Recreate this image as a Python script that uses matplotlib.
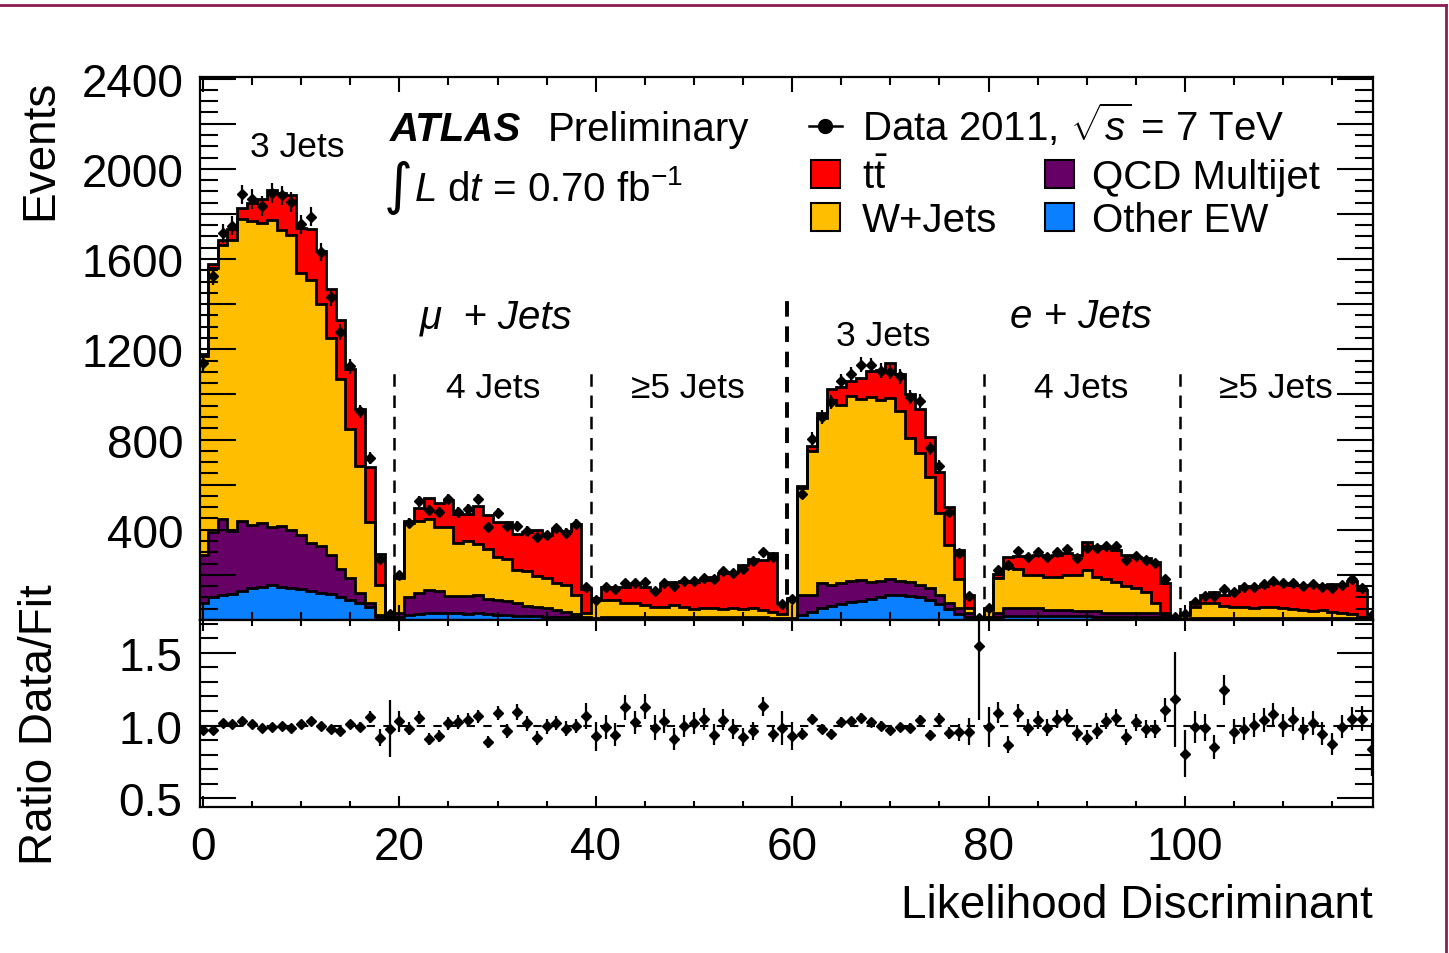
import numpy as np
import matplotlib
matplotlib.use('Agg')
import matplotlib.pyplot as plt
from matplotlib.lines import Line2D
from matplotlib.patches import Rectangle
from matplotlib.ticker import MultipleLocator, FuncFormatter

plt.rcParams['font.family'] = 'Liberation Sans'
plt.rcParams['mathtext.fontset'] = 'custom'
plt.rcParams['mathtext.rm'] = 'Liberation Sans'
plt.rcParams['mathtext.it'] = 'Liberation Sans:italic'
plt.rcParams['mathtext.bf'] = 'Liberation Sans:bold'

W, H = 1449, 954

# fitted yields per bin, 6 channels x 20 bins:
# mu 3 jets, mu 4 jets, mu >=5 jets, e 3 jets, e 4 jets, e >=5 jets
other_ew = [74, 104, 111, 115, 130, 141, 148, 155, 148, 141, 136, 130, 121, 115, 104, 89, 74, 56, 14, 4,
            14, 22, 27, 30, 30, 33, 30, 27, 33, 27, 22, 22, 19, 19, 18, 15, 15, 12, 12, 5,
            3, 5, 5, 5, 5, 5, 5, 5, 5, 5, 5, 5, 5, 5, 5, 5, 5, 5, 4, 3,
            3, 22, 37, 52, 63, 70, 78, 85, 92, 104, 113, 113, 108, 100, 89, 70, 48, 28, 15, 2,
            6, 15, 18, 18, 18, 18, 18, 18, 18, 18, 18, 15, 15, 15, 15, 15, 15, 15, 10, 3,
            3, 4, 4, 4, 4, 4, 4, 4, 4, 4, 4, 4, 4, 4, 4, 4, 4, 4, 4, 2]
qcd = [215, 288, 336, 280, 311, 281, 284, 257, 269, 259, 241, 213, 208, 174, 121, 96, 44, 18, 10, 4,
       16, 82, 94, 103, 100, 74, 77, 80, 78, 65, 67, 64, 55, 43, 38, 37, 29, 25, 15, 8,
       5, 7, 7, 7, 7, 7, 7, 7, 7, 7, 7, 7, 7, 7, 7, 7, 7, 7, 6, 5,
       5, 89, 74, 111, 92, 93, 96, 93, 75, 68, 67, 61, 59, 55, 52, 41, 26, 24, 15, 2,
       8, 15, 35, 35, 35, 35, 26, 26, 26, 22, 22, 25, 18, 18, 18, 15, 15, 15, 12, 2,
       3, 4, 4, 4, 4, 4, 4, 4, 4, 4, 4, 4, 4, 4, 4, 4, 4, 4, 4, 2]
wjets = [881, 1170, 1214, 1288, 1335, 1347, 1326, 1361, 1310, 1307, 1162, 1162, 1071, 961, 844, 662, 563, 360, 131, 4,
         155, 325, 316, 314, 282, 305, 233, 244, 226, 222, 189, 183, 148, 153, 139, 133, 119, 118, 84, 20,
         82, 77, 77, 65, 62, 55, 47, 44, 53, 44, 38, 41, 40, 38, 40, 38, 41, 32, 27, 19,
         84, 474, 636, 733, 822, 792, 818, 802, 822, 802, 806, 751, 640, 585, 495, 363, 259, 129, 22, 1,
         30, 155, 176, 172, 147, 147, 145, 145, 156, 160, 182, 152, 147, 137, 118, 110, 96, 44, 11, 2,
         18, 51, 66, 66, 54, 51, 48, 44, 48, 51, 44, 39, 36, 33, 36, 29, 22, 19, 7, 4]
ttbar = [7, 14, 22, 49, 52, 81, 107, 133, 165, 176, 200, 227, 236, 218, 260, 266, 254, 242, 138, 13,
         10, 10, 61, 93, 107, 118, 129, 121, 167, 153, 158, 165, 159, 175, 204, 194, 237, 241, 315, 103,
         6, 57, 56, 68, 86, 81, 73, 104, 102, 118, 118, 124, 140, 158, 161, 195, 217, 224, 258, 47,
         6, 7, 23, 22, 47, 78, 66, 93, 114, 133, 154, 167, 197, 195, 175, 180, 170, 130, 59, 1,
         8, 19, 52, 58, 82, 90, 94, 101, 99, 90, 125, 138, 140, 140, 139, 140, 149, 184, 132, 4,
         8, 21, 35, 51, 48, 71, 95, 94, 96, 103, 111, 109, 111, 116, 113, 124, 126, 148, 120, 17]

# data / fit per bin
ratio = [0.968, 0.968, 1.018, 1.009, 1.032, 1.009, 0.984, 0.993, 0.995, 0.984,
         1.009, 1.032, 0.998, 0.975, 0.961, 1.011, 0.989, 1.060, 0.917, 0.979,
         1.030, 0.979, 1.055, 0.906, 0.926, 1.014, 1.025, 1.041, 1.064, 0.887,
         1.087, 0.961, 1.094, 1.014, 0.917, 0.995, 1.018, 0.979, 0.998, 1.064,
         0.926, 0.993, 0.938, 1.124, 1.021, 1.129, 0.984, 1.030, 0.906, 0.998,
         1.016, 1.044, 0.938, 1.041, 0.975, 0.920, 0.961, 1.133, 0.943, 0.984,
         0.929, 0.945, 1.044, 0.979, 0.943, 1.025, 1.030, 1.055, 1.023, 0.998,
         0.966, 0.989, 0.986, 1.037, 0.938, 1.044, 0.949, 0.952, 0.956, 1.543,
         0.991, 1.087, 0.869, 1.087, 0.984, 1.037, 0.984, 1.044, 1.055, 0.949,
         0.917, 0.961, 1.030, 1.053, 0.922, 1.021, 0.975, 0.975, 1.106, 1.179,
         0.807, 0.991, 0.986, 0.853, 1.244, 0.956, 0.979, 1.002, 1.037, 1.076,
         1.002, 1.044, 0.979, 1.018, 0.945, 0.874, 0.991, 1.048, 1.048, 0.837]

channel_labels = ['3 Jets', '4 Jets', '\u22655 Jets', '3 Jets', '4 Jets', '\u22655 Jets']

C_EW = '#0a7fff'
C_QCD = '#660066'
C_W = '#ffbf00'
C_TT = '#ff0000'

AXIS_FS = 33


def px(x, y):
    return x / W, 1 - y / H


nbins = len(ratio)
edges = np.arange(nbins + 1) - 0.5
centers = np.arange(nbins)

s_ew = np.array(other_ew, float)
s_qcd = s_ew + np.array(qcd)
s_w = s_qcd + np.array(wjets)
s_tt = s_w + np.array(ttbar)
total = s_tt
data = np.array(ratio) * total
data_err = np.sqrt(data)
ratio_err = data_err / total

fig = plt.figure(figsize=(W / 100, H / 100), dpi=100)
x0, y0 = px(200, 621)
x1, y1 = px(1373, 78)
ax = fig.add_axes([x0, y0, x1 - x0, y1 - y0])
_, yr0 = px(200, 808)
axr = fig.add_axes([x0, yr0, x1 - x0, y0 - yr0])

# stacked fit components, bottom to top
layers = [(0, s_ew, C_EW), (s_ew, s_qcd, C_QCD), (s_qcd, s_w, C_W), (s_w, s_tt, C_TT)]
for lo, hi, col in layers:
    ax.stairs(hi, edges, baseline=lo, fill=True, color=col, lw=0, zorder=1)
for lo, hi, col in layers:
    ax.stairs(hi, edges, baseline=None, color='k', lw=2.0, zorder=2)

ax.errorbar(centers, data, yerr=data_err, fmt='D', ms=5.5, color='k',
            elinewidth=1.6, capsize=0, zorder=4)

# channel separators
for xb in [19.5, 39.5, 79.5, 99.5]:
    ax.plot([xb, xb], [0, 1132], color='k', lw=1.8, ls=(0, (5, 3.5)), zorder=0.5)
ax.plot([59.5, 59.5], [0, 1443], color='k', lw=2.8, ls=(0, (4, 2.5)), zorder=0.5)

ax.set_xlim(-0.3, 119.15)
ax.set_ylim(0, 2407)
ax.xaxis.set_major_locator(MultipleLocator(20))
ax.xaxis.set_minor_locator(MultipleLocator(5))
ax.yaxis.set_major_locator(MultipleLocator(200))
ax.yaxis.set_minor_locator(MultipleLocator(50))
ax.yaxis.set_major_formatter(FuncFormatter(
    lambda v, p: f'{int(round(v))}' if (round(v) % 400 == 0 and v > 1) else ''))
ax.tick_params(which='both', direction='in', top=True, right=True, width=1.5,
               labelbottom=False, labelsize=AXIS_FS, pad=12)
ax.tick_params(axis='y', which='major', length=26)
ax.tick_params(axis='y', which='minor', length=13)
ax.tick_params(axis='x', which='major', length=11)
ax.tick_params(axis='x', which='minor', length=6)

# ratio panel
axr.axhline(1.0, color='k', lw=1.5, ls=(0, (4, 4)), zorder=1)
axr.errorbar(centers, ratio, yerr=ratio_err, fmt='D', ms=5.5, color='k',
             elinewidth=1.6, capsize=0, zorder=3)
axr.set_xlim(-0.3, 119.15)
axr.set_ylim(0.44, 1.725)
axr.xaxis.set_major_locator(MultipleLocator(20))
axr.xaxis.set_minor_locator(MultipleLocator(5))
axr.yaxis.set_major_locator(MultipleLocator(0.5))
axr.yaxis.set_minor_locator(MultipleLocator(0.1))
axr.yaxis.set_major_formatter(FuncFormatter(lambda v, p: f'{v:.1f}'))
axr.tick_params(which='both', direction='in', top=True, right=True, width=1.5,
                labelsize=AXIS_FS)
axr.tick_params(axis='y', which='major', length=26, pad=13)
axr.tick_params(axis='y', which='minor', length=13)
axr.tick_params(axis='x', which='major', length=8, pad=13)
axr.tick_params(axis='x', which='minor', length=4)

for a in (ax, axr):
    for sp in a.spines.values():
        sp.set_linewidth(1.6)

# axis titles
fig.text(*px(40, 80), 'Events', rotation=90, ha='center', va='top', size=AXIS_FS)
fig.text(*px(40, 725), 'Ratio Data/Fit', rotation=90, ha='center', va='center', size=AXIS_FS)
fig.text(*px(1373, 918), 'Likelihood Discriminant', ha='right', va='baseline', size=AXIS_FS)

# channel annotations
fig.text(*px(297, 157), channel_labels[0], ha='center', va='baseline', size=25.5)
fig.text(*px(493, 398), channel_labels[1], ha='center', va='baseline', size=25.5)
fig.text(*px(688, 398), channel_labels[2], ha='center', va='baseline', size=25.5)
fig.text(*px(883, 346), channel_labels[3], ha='center', va='baseline', size=25.5)
fig.text(*px(1081, 398), channel_labels[4], ha='center', va='baseline', size=25.5)
fig.text(*px(1276, 398), channel_labels[5], ha='center', va='baseline', size=25.5)
fig.text(*px(420, 328), '\u03bc  + Jets', ha='left', va='baseline', size=29, style='italic')
fig.text(*px(1010, 328), 'e + Jets', ha='left', va='baseline', size=29, style='italic')

fig.text(*px(390, 141), 'ATLAS', ha='left', va='baseline', size=29,
         weight='bold', style='italic')
fig.text(*px(548, 141), 'Preliminary', ha='left', va='baseline', size=29)
fig.text(*px(384, 188), '\u222b', ha='left', va='center', size=40, family='DejaVu Sans')
fig.text(*px(414, 201), r'$L$ d$t$ = 0.70 fb$^{-1}$', ha='left', va='baseline', size=29)

# legend
fig.add_artist(Line2D([809 / W, 842 / W], [1 - 127 / H] * 2, color='k', lw=1.8,
                      transform=fig.transFigure))
fig.add_artist(Line2D([825 / W], [1 - 127 / H], marker='o', ms=10, color='k',
                      transform=fig.transFigure))
fig.text(*px(862, 141), r'Data 2011, $\sqrt{s}$ = 7 TeV', ha='left', va='baseline', size=29)

legend_boxes = [
    (811, 161, C_TT, 862, r'$\mathrm{t}\bar{\mathrm{t}}$'),
    (1045, 161, C_QCD, 1092, 'QCD Multijet'),
    (811, 204, C_W, 862, 'W+Jets'),
    (1045, 204, C_EW, 1092, 'Other EW'),
]
for bx, by, col, tx, label in legend_boxes:
    fig.add_artist(Rectangle(px(bx, by + 28), 29 / W, 28 / H, transform=fig.transFigure,
                             facecolor=col, edgecolor='k', lw=1.5))
    fig.text(*px(tx, by + 28), label, ha='left', va='baseline', size=29)

# frame lines along the top and right edges
fig.add_artist(Line2D([0, 1446 / W], [1 - 6 / H] * 2, color='#8c1d52', lw=2,
                      transform=fig.transFigure))
fig.add_artist(Line2D([1446 / W] * 2, [0, 1 - 6 / H], color='#8c1d52', lw=2,
                      transform=fig.transFigure))

fig.savefig('out.png', dpi=100)
